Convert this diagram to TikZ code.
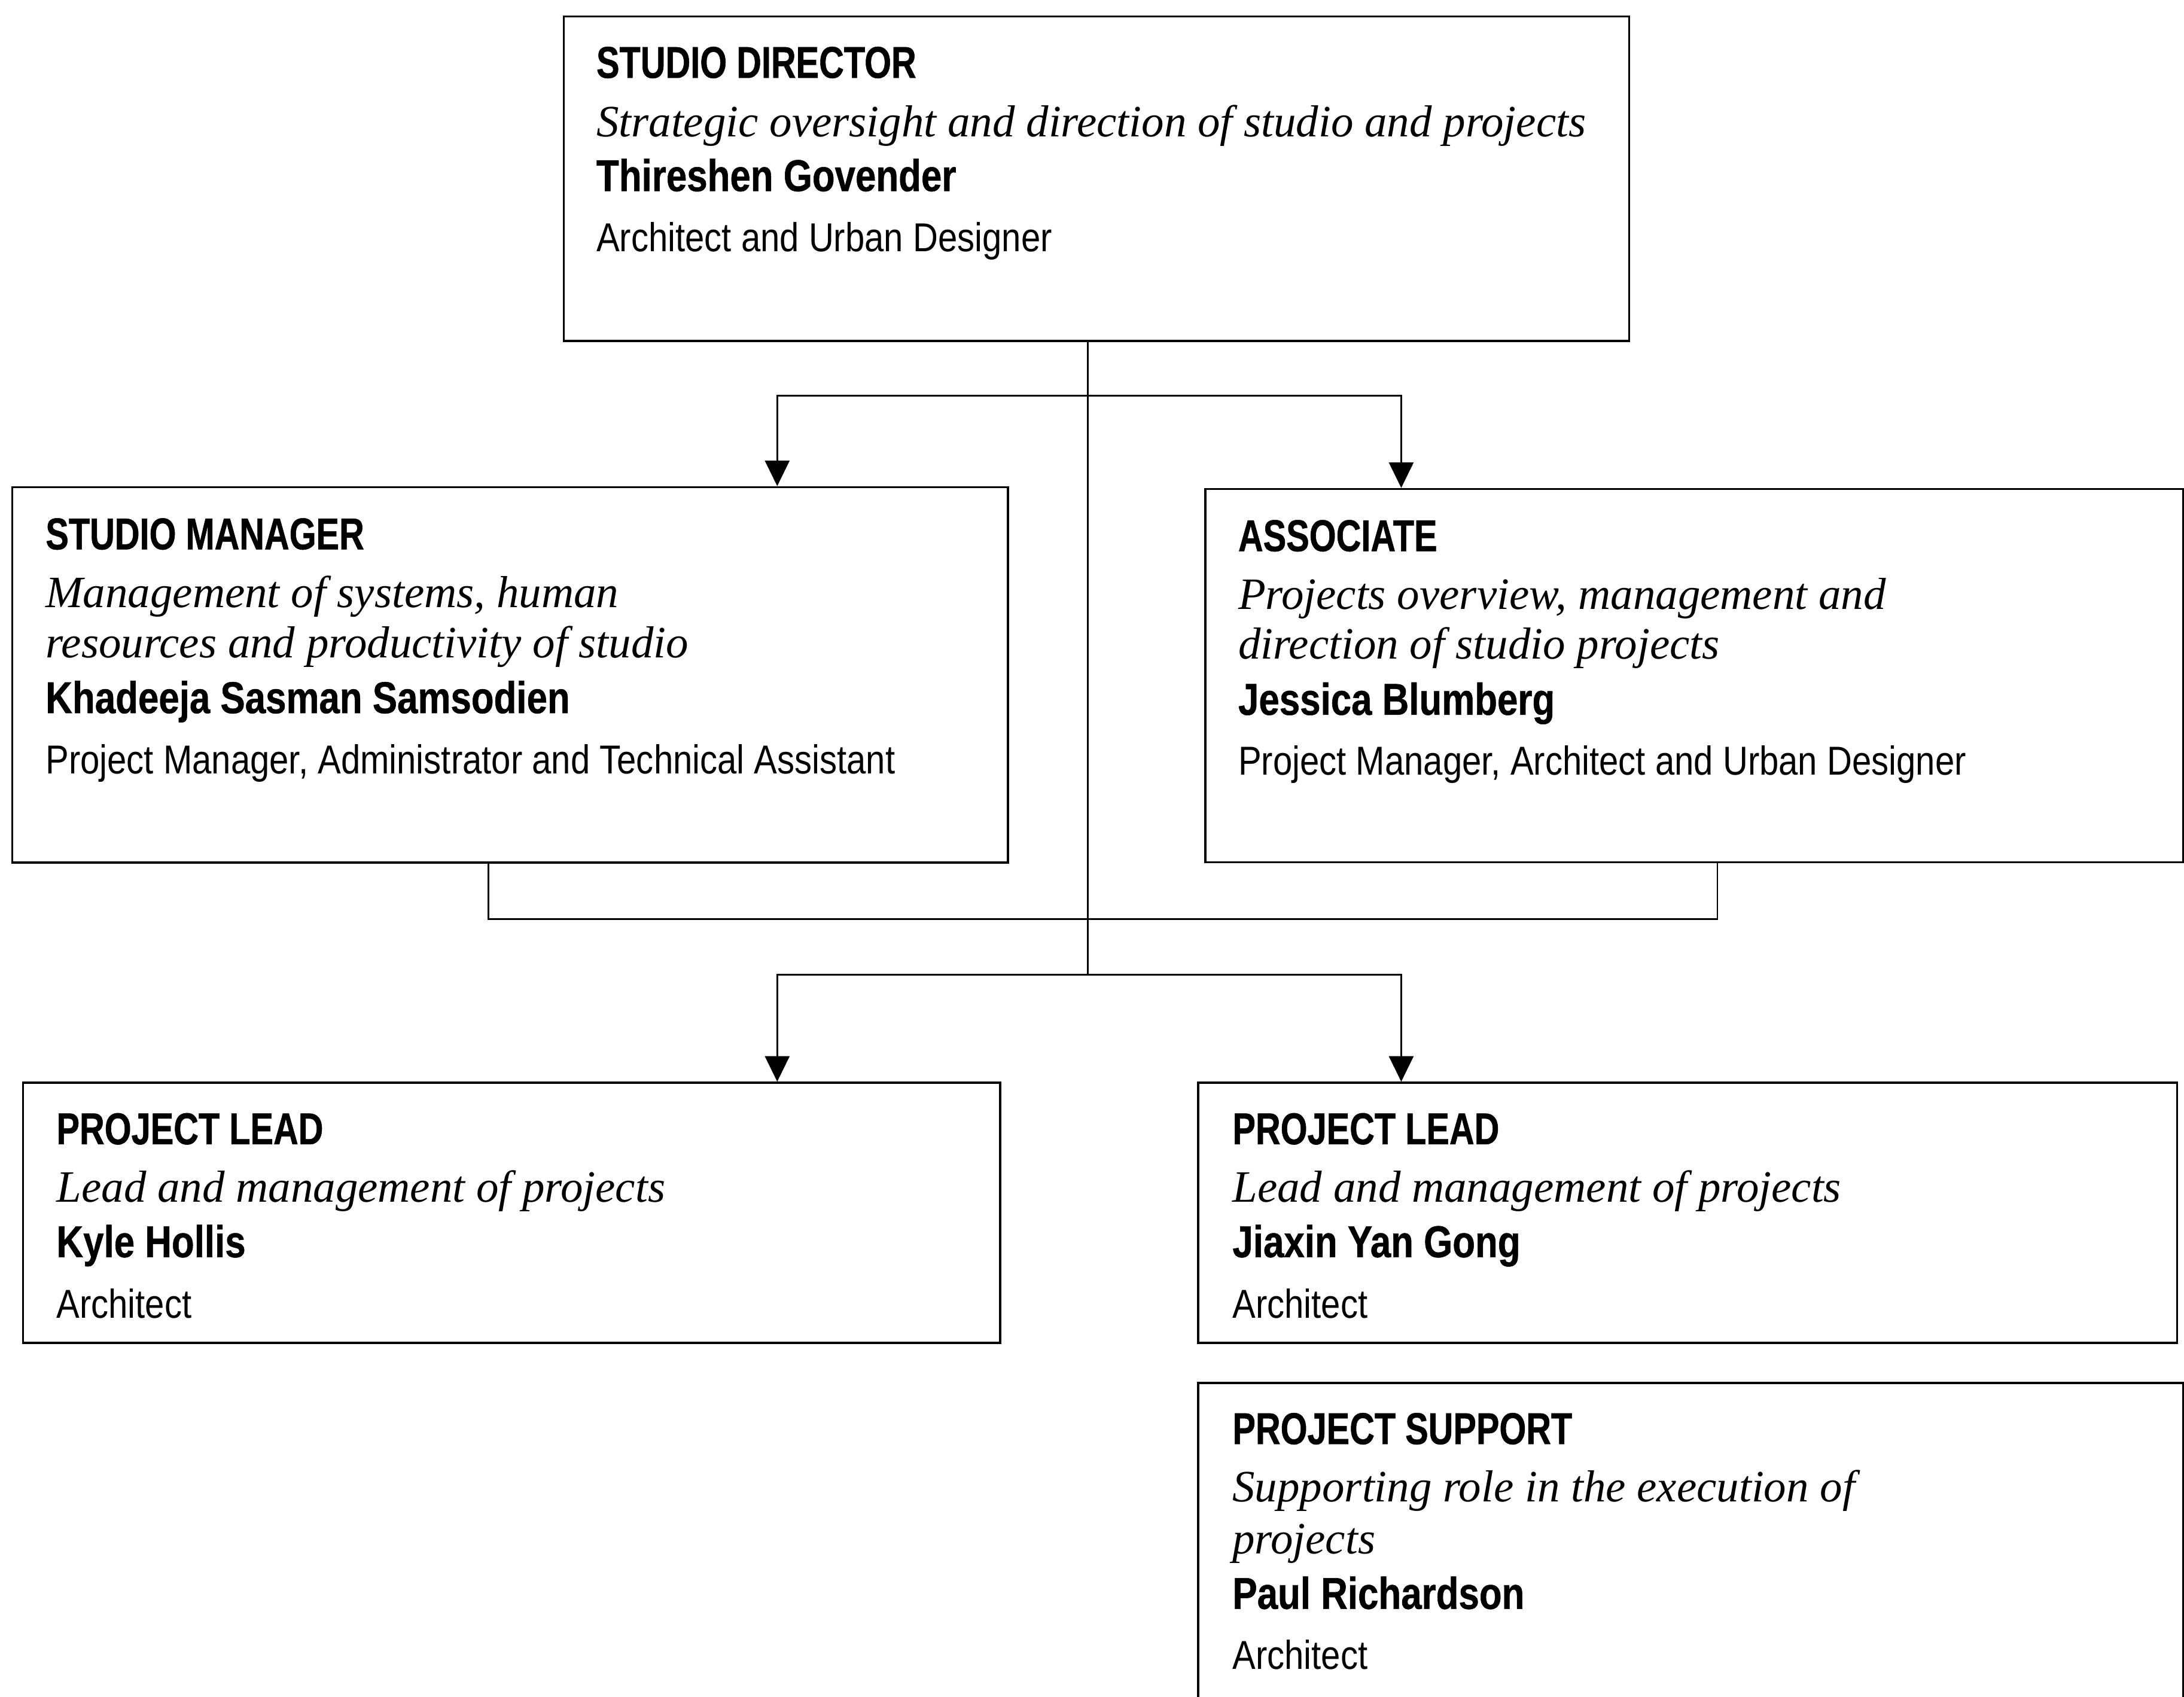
\documentclass[tikz,border=0pt]{standalone}
\usepackage{fontspec}
\usetikzlibrary{arrows.meta}
\newfontfamily\ttlfont[FakeStretch=0.775, BoldFeatures={FakeBold=0.7}]{Liberation Sans}
\newfontfamily\nmfont[FakeStretch=0.83, BoldFeatures={FakeBold=0.7}]{Liberation Sans}
\newfontfamily\rlfont[FakeStretch=0.86]{Liberation Sans}
\newfontfamily\dsfont{Liberation Serif}
\tikzset{
  orgbox/.style={draw, line width=1.5pt, rectangle, anchor=north west, inner sep=0pt},
  ttl/.style={anchor=base west, inner sep=0pt, font=\ttlfont\bfseries\fontsize{32}{38}\selectfont},
  dsc/.style={anchor=base west, inner sep=0pt, font=\dsfont\itshape\fontsize{32.2}{36}\selectfont},
  nm/.style={anchor=base west, inner sep=0pt, font=\nmfont\bfseries\fontsize{32}{38}\selectfont},
  rl/.style={anchor=base west, inner sep=0pt, font=\rlfont\fontsize{29}{34}\selectfont},
  conn/.style={line width=1.25pt},
  arr/.style={conn, -{Triangle[width=17.6pt,length=18.3pt]}},
}
\begin{document}
\begin{tikzpicture}[x=1pt,y=-1pt]
\useasboundingbox (0,0) rectangle (1568,1218);
\clip (0,0) rectangle (1568,1218);
% boxes
\node[orgbox, minimum width=765pt, minimum height=233pt] (dir) at (404,11) {};
\node[orgbox, minimum width=715pt, minimum height=269.5pt] (sm) at (8,349) {};
\node[orgbox, minimum width=702pt, minimum height=268pt] (as) at (864.6,350.3) {};
\node[orgbox, minimum width=701.6pt, minimum height=186.8pt] (plA) at (15.8,776.6) {};
\node[orgbox, minimum width=702.7pt, minimum height=186.8pt] (plB) at (859.5,776.6) {};
\node[orgbox, minimum width=707pt, minimum height=260pt] (ps) at (859.5,992.2) {};
% director text
\node[ttl] (d1) at (428,55.9) {STUDIO DIRECTOR};
\node[dsc] (d2) at (428,98.3) {Strategic oversight and direction of studio and projects};
\node[nm]  (d3) at (428,137.2) {Thireshen Govender};
\node[rl]  (d4) at (428,180.8) {Architect and Urban Designer};
% studio manager text
\node[ttl] (s1) at (32.6,394.4) {STUDIO MANAGER};
\node[dsc] (s2) at (32.6,436) {Management of systems, human};
\node[dsc] (s3) at (32.6,472) {resources and productivity of studio};
\node[nm]  (s4) at (32.6,512) {Khadeeja Sasman Samsodien};
\node[rl]  (s5) at (32.6,555.4) {Project Manager, Administrator and Technical Assistant};
% associate text
\node[ttl] (a1t) at (888.8,395.7) {ASSOCIATE};
\node[dsc] (a2t) at (888.8,437.2) {Projects overview, management and};
\node[dsc] (a3t) at (888.8,473) {direction of studio projects};
\node[nm]  (a4t) at (888.8,513.2) {Jessica Blumberg};
\node[rl]  (a5t) at (888.8,556.4) {Project Manager, Architect and Urban Designer};
% project lead A
\node[ttl] (p1) at (40.4,821.5) {PROJECT LEAD};
\node[dsc] (p2) at (40.4,863.2) {Lead and management of projects};
\node[nm]  (p3) at (40.4,902.6) {Kyle Hollis};
\node[rl]  (p4) at (40.4,946.3) {Architect};
% project lead B
\node[ttl] (q1) at (884.7,821.5) {PROJECT LEAD};
\node[dsc] (q2) at (884.7,863.2) {Lead and management of projects};
\node[nm]  (q3) at (884.7,902.6) {Jiaxin Yan Gong};
\node[rl]  (q4) at (884.7,946.3) {Architect};
% project support
\node[ttl] (r1) at (884.7,1036.8) {PROJECT SUPPORT};
\node[dsc] (r2) at (884.7,1078.2) {Supporting role in the execution of};
\node[dsc] (r3) at (884.7,1115.5) {projects};
\node[nm]  (r4) at (884.7,1155.1) {Paul Richardson};
\node[rl]  (r5) at (884.7,1198.5) {Architect};
% connectors
\coordinate (j1) at (781,284);
\coordinate (j2) at (781,700);
\coordinate (ta) at (558,284);
\coordinate (tb) at (1006,284);
\coordinate (m1) at (350.5,660);
\coordinate (m2) at (1233,660);
\coordinate (ba) at (558,700);
\coordinate (bb) at (1006,700);
\draw[conn] (dir.south -| j1) -- (j2);
\draw[arr] (j1) -- (ta) -- (ta |- sm.north);
\draw[arr] (j1) -- (tb) -- (tb |- as.north);
\draw[conn] (sm.south -| m1) -- (m1) -- (m2) -- (as.south -| m2);
\draw[arr] (j2) -- (ba) -- (ba |- plA.north);
\draw[arr] (j2) -- (bb) -- (bb |- plB.north);
\end{tikzpicture}
\end{document}
